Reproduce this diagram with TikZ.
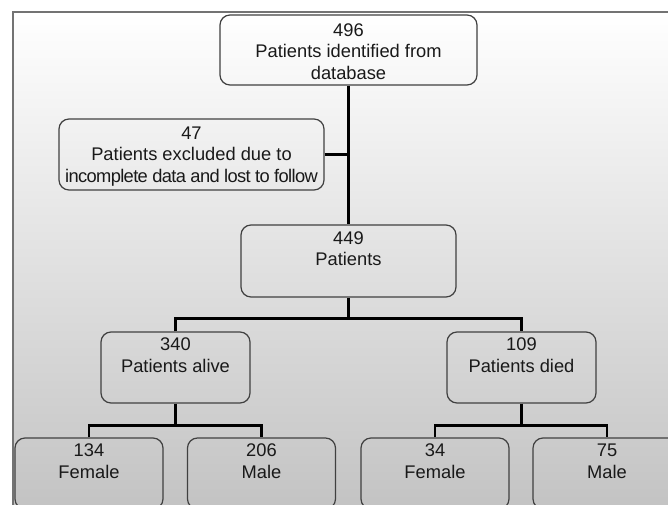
\documentclass[tikz,border=0pt]{standalone}
\usepackage{fontspec}
\setmainfont{Liberation Sans}
\begin{document}
\begin{tikzpicture}[x=1pt, y=-1pt,
        caja/.style={draw=black!75, line width=1.2pt, rounded corners=10pt, align=center,
            inner sep=0pt, text=black!90, font=\fontsize{18.3}{21.5}\selectfont},
        enlace/.style={line width=2.7pt, black}]
            \useasboundingbox (0,0) rectangle (668,505);
            \clip (0,0) rectangle (668,505);

            % Fondo y marco
            \shade[top color=white, bottom color=black!25] (13,12) rectangle (720,540);
            \draw[black!55, line width=2pt] (720,12) -- (13,12) -- (13,540);

            % Cajas superiores
            \node[caja, minimum width=257pt, minimum height=70pt] (identificados) at (348.5,50) {\rule{0pt}{16pt}496\\Patients identified from\\database};
            \node[caja, minimum width=265pt, minimum height=71pt] (excluidos) at (191.5,154.5) {\rule{0pt}{16pt}47\\Patients excluded due to\\{\addfontfeatures{LetterSpace=-3.5}incomplete data and lost to follow}};
            \node[caja, minimum width=215pt, minimum height=72pt] (total) at (348.5,261) {\rule{0pt}{16pt}449\\Patients\\\strut};

            % Vivos y fallecidos
            \node[caja, minimum width=149pt, minimum height=71pt] (vivos) at (175.5,367.5) {\rule{0pt}{16pt}340\\Patients alive\\\strut};
            \node[caja, minimum width=149pt, minimum height=71pt] (fallecidos) at (521.5,367.5) {\rule{0pt}{16pt}109\\Patients died\\\strut};

            % Por sexo
            \node[caja, minimum width=148pt, minimum height=71pt] (mujeresvivas) at (89,473.5) {\rule{0pt}{16pt}134\\Female\\\strut};
            \node[caja, minimum width=148pt, minimum height=71pt] (hombresvivos) at (261.5,473.5) {\rule{0pt}{16pt}206\\Male\\\strut};
            \node[caja, minimum width=148pt, minimum height=71pt] (mujeresmuertas) at (435,473.5) {\rule{0pt}{16pt}34\\Female\\\strut};
            \node[caja, minimum width=148pt, minimum height=71pt] (hombresmuertos) at (607,473.5) {\rule{0pt}{16pt}75\\Male\\\strut};

            % Enlaces
            \draw[enlace] (identificados) -- (total);
            \draw[enlace] (excluidos.east) -- (excluidos.east -| identificados.south);
            \draw[enlace] (total.south) -- ++(0,21) coordinate (rama);
            \draw[enlace] (vivos.north) |- (rama) -| (fallecidos.north);
            \draw[enlace] (vivos.south) -- ++(0,22) coordinate (ramavivos);
            \draw[enlace] (mujeresvivas.north) |- (ramavivos) -| (hombresvivos.north);
            \draw[enlace] (fallecidos.south) -- ++(0,22) coordinate (ramamuertos);
            \draw[enlace] (mujeresmuertas.north) |- (ramamuertos) -| (hombresmuertos.north);

        \end{tikzpicture}
\end{document}
